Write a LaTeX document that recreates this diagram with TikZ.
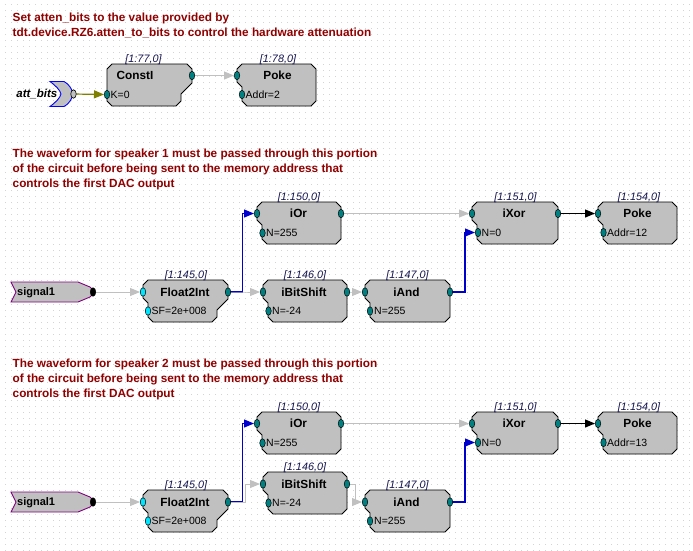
\documentclass[tikz,border=0pt]{standalone}
\usepackage{fontspec}
\setmainfont{Liberation Sans}
\usetikzlibrary{arrows.meta,shapes.geometric}
\pgfdeclarelayer{grid}
\pgfdeclarelayer{wires}
\pgfsetlayers{grid,wires,main}

\definecolor{blkgray}{RGB}{192,192,192}
\definecolor{portteal}{RGB}{0,128,128}
\definecolor{portcyan}{RGB}{0,230,255}
\definecolor{wiregray}{RGB}{192,192,192}
\definecolor{wireblue}{RGB}{0,0,204}
\definecolor{wireolive}{RGB}{128,128,0}
\definecolor{notered}{RGB}{145,0,0}
\definecolor{idnavy}{RGB}{20,20,80}
\definecolor{tagpurple}{RGB}{128,0,128}
\definecolor{tagblue}{RGB}{0,0,255}
\definecolor{gridgray}{RGB}{212,212,212}

\tikzset{
  blk/.style={fill=blkgray, draw=black, line width=0.9pt, line join=miter},
  port/.style={ellipse, draw=black, line width=0.5pt, fill=portteal,
    minimum width=5.5pt, minimum height=8.5pt, inner sep=0pt},
  cport/.style={port, fill=portcyan},
  kport/.style={port, fill=black},
  hport/.style={port, line width=0.6pt, fill=blkgray},
  note/.style={anchor=west, inner sep=0pt, text=notered,
    font=\fontsize{11.8}{14}\selectfont\bfseries, text height=8.5pt, text depth=0pt},
  ttl/.style={inner sep=0pt, font=\fontsize{11.8}{14}\selectfont\bfseries,
    text height=8.5pt, text depth=0pt},
  prm/.style={anchor=west, inner sep=0pt, font=\fontsize{10.5}{12}\selectfont,
    text height=7.6pt, text depth=0pt},
  idx/.style={inner sep=0pt, text=idnavy, font=\fontsize{10.8}{12}\selectfont\itshape,
    text height=7.8pt, text depth=0pt},
  taglbl/.style={anchor=west, inner sep=0pt, font=\fontsize{11}{13}\selectfont\bfseries,
    text height=7.9pt, text depth=0pt},
  sigtag/.style={fill=blkgray, draw=tagpurple, line width=0.9pt},
  wgray/.style={draw=wiregray, line width=0.9pt, -{Triangle[length=10pt,width=8pt]}},
  wblue/.style={draw=wireblue, line width=1.2pt, -{Triangle[length=10pt,width=8pt]}},
  wblack/.style={draw=black, line width=1.2pt, -{Triangle[length=10pt,width=8pt]}},
  wolive/.style={draw=wireolive, line width=1.2pt, -{Triangle[length=10pt,width=8pt]}},
}

% Component body: x1, y1, x2, stepped left side (0/1), stepped right side (0/1)
\newcommand\rpbody[5]{%
  \ifnum#4=1 \def\lside{-- ({#1+10},{#2+42}) -- ({#1+5},{#2+37}) -- ({#1+5},{#2+23}) -- ({#1},{#2+18})}%
  \else \def\lside{-- ({#1+5},{#2+42}) -- ({#1},{#2+37})}\fi
  \ifnum#5=1 \def\rside{-- ({#3},{#2+19}) -- ({#3-11},{#2+30}) -- ({#3-11},{#2+37}) -- ({#3-16},{#2+42})}%
  \else \def\rside{-- ({#3},{#2+37}) -- ({#3-5},{#2+42})}\fi
  \draw[blk] ({#1},{#2+5}) -- ({#1+5},{#2}) -- ({#3-5},{#2}) -- ({#3},{#2+5}) \rside \lside -- cycle;
}

% One speaker chain: suffix, vertical offset, iBitShift top, speaker, address
\newcommand\chain[5]{%
  \node[note] (w#1a) at (12.5,{153+#2}) {The waveform for speaker #4 must be passed through this portion};
  \node[note] (w#1b) at (12.5,{168+#2}) {of the circuit before being sent to the memory address that};
  \node[note] (w#1c) at (12.5,{183+#2}) {controls the first DAC output};
  % source tag
  \draw[sigtag] (11,{282+#2}) -- (78,{282+#2}) -- (90,{287+#2}) -- (95,{292+#2})
    -- (90,{297+#2}) -- (78,{302+#2}) -- (11,{302+#2}) -- (16,{292+#2}) -- cycle;
  \node[taglbl] (s#1t) at (17,{292+#2}) {signal1};
  \node[kport] (s#1out) at (93,{292+#2}) {};
  % Float2Int
  \rpbody{143}{280+#2}{228}{1}{1}
  \node[cport] (f#1in) at (143,{292+#2}) {};
  \node[cport] (f#1sf) at (148,{311+#2}) {};
  \node[port] (f#1out) at (228,{292+#2}) {};
  \node[ttl] (f#1t) at (185,{292+#2}) {Float2Int};
  \node[prm] (f#1p) at (151.5,{311+#2}) {SF=2e+008};
  \node[idx] (f#1i) at (186,{275+#2}) {[1:145,0]};
  % iOr
  \rpbody{257}{202+#2}{341}{1}{0}
  \node[port] (o#1in) at (257,{213.5+#2}) {};
  \node[port] (o#1n) at (262.5,{233+#2}) {};
  \node[port] (o#1out) at (341,{213.5+#2}) {};
  \node[ttl] (o#1t) at (298.5,{213.5+#2}) {iOr};
  \node[prm] (o#1p) at (266,{233+#2}) {N=255};
  \node[idx] (o#1i) at (299,{197+#2}) {[1:150,0]};
  % iBitShift
  \rpbody{263}{#3}{347}{1}{0}
  \node[port] (b#1in) at (263,{#3+12}) {};
  \node[port] (b#1n) at (268.5,{#3+31}) {};
  \node[port] (b#1out) at (347,{#3+12}) {};
  \node[ttl] (b#1t) at (304,{#3+12}) {iBitShift};
  \node[prm] (b#1p) at (272,{#3+31}) {N=-24};
  \node[idx] (b#1i) at (305,{#3-5}) {[1:146,0]};
  % iAnd
  \rpbody{365}{280+#2}{450}{1}{0}
  \node[port] (a#1in) at (365,{292+#2}) {};
  \node[port] (a#1n) at (370,{311+#2}) {};
  \node[port] (a#1out) at (450,{292+#2}) {};
  \node[ttl] (a#1t) at (406.5,{292+#2}) {iAnd};
  \node[prm] (a#1p) at (374,{311+#2}) {N=255};
  \node[idx] (a#1i) at (407.5,{275+#2}) {[1:147,0]};
  % iXor
  \rpbody{472}{202+#2}{558}{1}{0}
  \node[port] (x#1in) at (472,{213.5+#2}) {};
  \node[port] (x#1n) at (478,{232.5+#2}) {};
  \node[port] (x#1out) at (558,{213.5+#2}) {};
  \node[ttl] (x#1t) at (514,{213.5+#2}) {iXor};
  \node[prm] (x#1p) at (481.5,{232.5+#2}) {N=0};
  \node[idx] (x#1i) at (515.5,{196.5+#2}) {[1:151,0]};
  % Poke
  \rpbody{598}{202+#2}{677}{1}{0}
  \node[port] (p#1in) at (598,{213.5+#2}) {};
  \node[port] (p#1a) at (603.5,{232.5+#2}) {};
  \node[ttl] (p#1t) at (637.5,{213.5+#2}) {Poke};
  \node[prm] (p#1p) at (607,{232.5+#2}) {Addr=#5};
  \node[idx] (p#1i) at (639,{196.5+#2}) {[1:154,0]};
  % connections
  \begin{pgfonlayer}{wires}
    \draw[wgray] (s#1out.center) -- (f#1in.west);
    \draw[wblue] (f#1out.center) -- ([xshift=14.5pt]f#1out.center) |- (o#1in.west);
    \draw[wgray] (f#1out.center) -- ([xshift=17.5pt]f#1out.center) |- (b#1in.west);
    \draw[wgray] (b#1out.center) -- ([xshift=8pt]b#1out.center) |- (a#1in.west);
    \draw[wgray] (o#1out.center) -- (x#1in.west);
    \draw[wblue] (a#1out.center) -- ([xshift=15pt]a#1out.center) |- (x#1n.west);
    \draw[wblack] (x#1out.center) -- (p#1in.west);
  \end{pgfonlayer}
}

\begin{document}
\begin{tikzpicture}[x=1pt, y=-1pt]
  \useasboundingbox (0,0) rectangle (693,550);
  \begin{pgfonlayer}{grid}
    \fill[white] (0,0) rectangle (693,550);
    \foreach \gx in {0,...,114} \foreach \gy in {0,...,91}
      \fill[gridgray] ({5.2+\gx*6},{4.2+\gy*6}) rectangle ++(1,1);
  \end{pgfonlayer}

  % attenuation constant
  \node[note] (n1a) at (12.5,17) {Set atten\_bits to the value provided by};
  \node[note] (n1b) at (12.5,32) {tdt.device.RZ6.atten\_to\_bits to control the hardware attenuation};

  \draw[fill=blkgray, draw=tagblue, line width=0.9pt] (50,81.5) -- (64,81.5)
    .. controls (69,84) and (72,89) .. (73,94)
    .. controls (72,99) and (69,104) .. (64,106.5) -- (50,106.5)
    .. controls (56,102) and (60,98) .. (61,94)
    .. controls (60,90) and (56,86) .. (50,81.5) -- cycle;
  \node[anchor=east, inner sep=0pt, font=\fontsize{11.5}{13}\selectfont\bfseries\itshape,
    text height=8.2pt, text depth=0pt] (attl) at (57.5,93.5) {att\_bits};
  \node[hport] (attout) at (73.5,94) {};

  \rpbody{107}{64}{192}{0}{1}
  \node[port] (c1k) at (107,94.5) {};
  \node[port] (c1out) at (192,75.5) {};
  \node[ttl] (c1t) at (135,75.5) {ConstI};
  \node[prm] (c1p) at (110.5,94.5) {K=0};
  \node[idx] (c1i) at (143.5,58.5) {[1:77,0]};

  \rpbody{237}{64}{316}{1}{0}
  \node[port] (k1in) at (237,75.5) {};
  \node[port] (k1a) at (242,94.5) {};
  \node[ttl] (k1t) at (277.5,75.5) {Poke};
  \node[prm] (k1p) at (245.5,94.5) {Addr=2};
  \node[idx] (k1i) at (278,58.5) {[1:78,0]};

  \begin{pgfonlayer}{wires}
    \draw[wolive] (attout.center) -- (c1k.west);
    \draw[wgray] (c1out.center) -- (k1in.west);
  \end{pgfonlayer}

  % speaker chains
  \chain{A}{0}{280}{1}{12}
  \chain{B}{210}{472}{2}{13}
\end{tikzpicture}
\end{document}
